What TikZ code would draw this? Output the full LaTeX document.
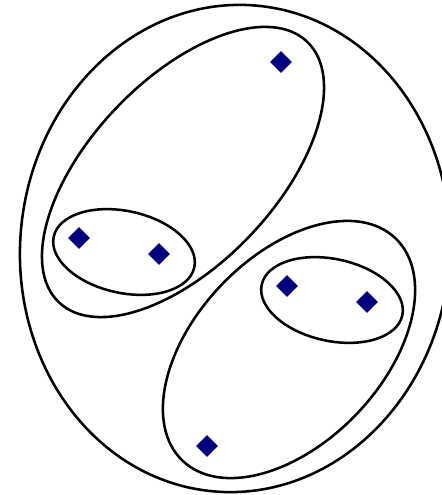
\documentclass[tikz,border=0pt]{standalone}
\usepackage{tikz}
\usetikzlibrary{shapes.geometric}
\definecolor{ptblue}{RGB}{0,0,128}

\begin{document}
\begin{tikzpicture}[scale=0.02, line width=1.45pt,
	pt/.style={diamond, fill=ptblue, inner sep=0pt, minimum size=13pt}]
	\useasboundingbox (0,0) rectangle (441,495);
	
	% 外层大椭圆
	\draw (235,246.5) ellipse [x radius=215, y radius=244, rotate=-5];
	
	% 两个斜放的中椭圆
	\draw (183,323) ellipse [x radius=180, y radius=92.5, rotate=46.4];
	\draw (289,145.5) ellipse [x radius=154, y radius=93.5, rotate=46.2];
	
	% 两个小椭圆
	\draw (124,243) ellipse [x radius=72, y radius=41, rotate=-12.3];
	\draw (332,195) ellipse [x radius=72, y radius=41, rotate=-12.3];
	
	% 六个点（菱形）
	\foreach \x/\y [count=\i] in {281/433, 79/257, 159/241, 287/209, 367/193, 207/49}
		\node[pt] (p\i) at (\x,\y) {};
\end{tikzpicture}
\end{document}
